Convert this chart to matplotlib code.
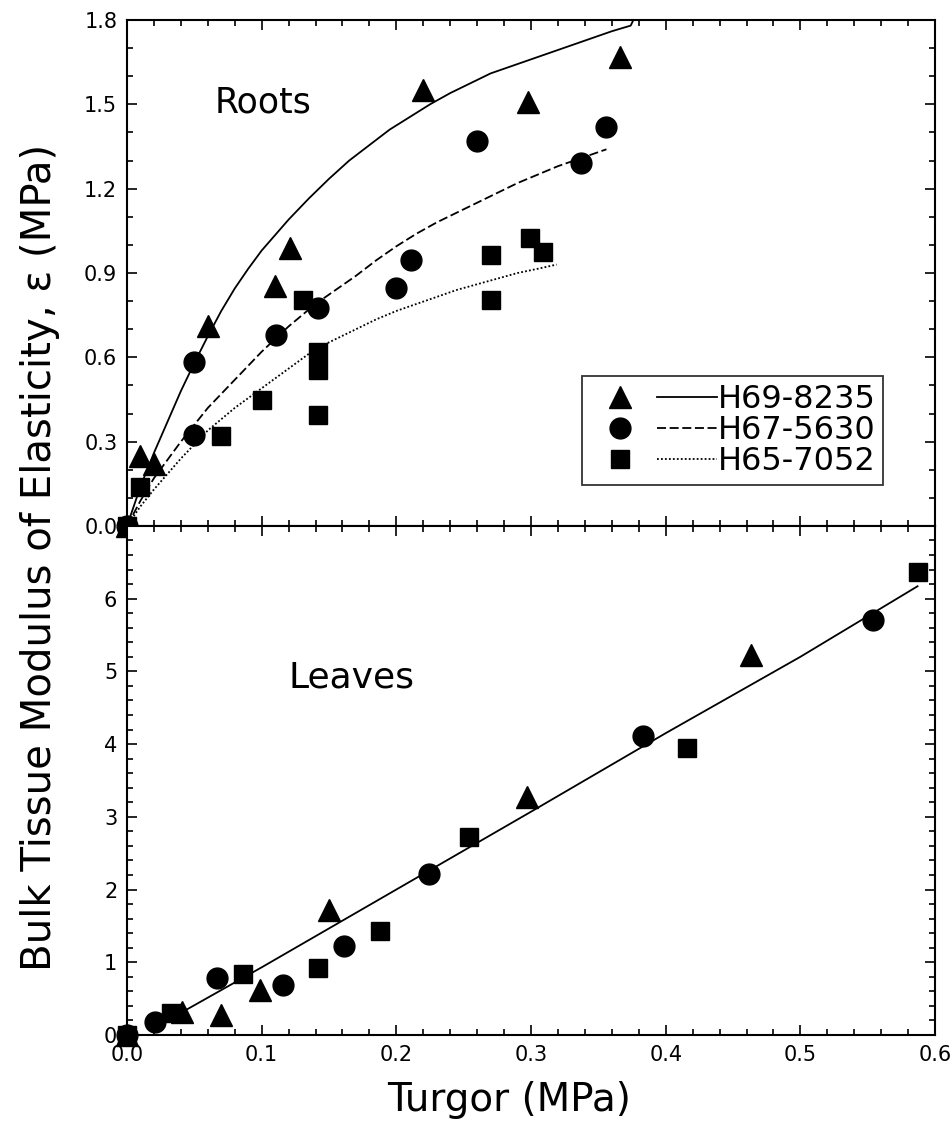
import matplotlib
matplotlib.use("Agg")
import matplotlib.pyplot as plt
from matplotlib.lines import Line2D
from matplotlib.legend_handler import HandlerTuple
from matplotlib.ticker import MultipleLocator, FormatStrFormatter

plt.rcParams["font.family"] = "DejaVu Sans"

# Roots: measured points per cultivar (turgor, modulus)
root_h69_x = [0.0, 0.01, 0.02, 0.06, 0.11, 0.121, 0.22, 0.298, 0.366]
root_h69_y = [0.0, 0.25, 0.22, 0.71, 0.855, 0.99, 1.55, 1.51, 1.67]
root_h67_x = [0.0, 0.05, 0.05, 0.111, 0.142, 0.20, 0.211, 0.26, 0.337, 0.356]
root_h67_y = [0.0, 0.585, 0.325, 0.68, 0.775, 0.845, 0.945, 1.37, 1.29, 1.42]
root_h65_x = [0.0, 0.01, 0.07, 0.10, 0.131, 0.142, 0.142, 0.142, 0.27, 0.27, 0.299, 0.309]
root_h65_y = [0.0, 0.14, 0.32, 0.45, 0.805, 0.62, 0.555, 0.395, 0.965, 0.805, 1.025, 0.975]

# Roots: fitted curves
fit_h69_x = [0.0, 0.005, 0.01, 0.015, 0.02, 0.03, 0.04, 0.05, 0.06, 0.07, 0.08,
             0.09, 0.10, 0.11, 0.12, 0.135, 0.15, 0.165, 0.18, 0.195, 0.21,
             0.225, 0.24, 0.255, 0.27, 0.285, 0.30, 0.315, 0.33, 0.345, 0.36,
             0.374, 0.376]
fit_h69_y = [0.0, 0.07, 0.14, 0.20, 0.26, 0.37, 0.48, 0.58, 0.675, 0.765, 0.845,
             0.915, 0.98, 1.035, 1.09, 1.165, 1.235, 1.30, 1.355, 1.41, 1.455,
             1.50, 1.54, 1.575, 1.61, 1.635, 1.66, 1.685, 1.71, 1.735, 1.76,
             1.78, 1.80]
fit_h67_x = [0.0, 0.01, 0.02, 0.03, 0.04, 0.05, 0.06, 0.07, 0.08, 0.09, 0.10,
             0.11, 0.12, 0.13, 0.14, 0.155, 0.17, 0.185, 0.20, 0.215, 0.23,
             0.245, 0.26, 0.275, 0.29, 0.305, 0.32, 0.338, 0.356]
fit_h67_y = [0.0, 0.09, 0.17, 0.235, 0.30, 0.36, 0.42, 0.47, 0.52, 0.57, 0.62,
             0.665, 0.71, 0.75, 0.79, 0.84, 0.89, 0.945, 0.995, 1.04, 1.08,
             1.115, 1.15, 1.185, 1.22, 1.25, 1.28, 1.31, 1.34]
fit_h65_x = [0.0, 0.01, 0.02, 0.03, 0.04, 0.05, 0.06, 0.07, 0.08, 0.09, 0.10,
             0.11, 0.12, 0.13, 0.14, 0.155, 0.17, 0.185, 0.20, 0.215, 0.23,
             0.245, 0.26, 0.275, 0.29, 0.305, 0.319]
fit_h65_y = [0.0, 0.07, 0.13, 0.185, 0.24, 0.29, 0.34, 0.38, 0.42, 0.455, 0.49,
             0.525, 0.56, 0.595, 0.63, 0.665, 0.70, 0.735, 0.765, 0.79, 0.815,
             0.84, 0.86, 0.88, 0.90, 0.915, 0.93]

# Leaves: measured points per cultivar
leaf_h69_x = [0.0, 0.041, 0.070, 0.099, 0.150, 0.297, 0.463]
leaf_h69_y = [0.0, 0.32, 0.28, 0.62, 1.72, 3.27, 5.23]
leaf_h67_x = [0.0, 0.021, 0.067, 0.116, 0.161, 0.224, 0.383, 0.554]
leaf_h67_y = [0.0, 0.18, 0.78, 0.69, 1.23, 2.22, 4.11, 5.70]
leaf_h65_x = [0.0, 0.033, 0.086, 0.142, 0.188, 0.254, 0.416, 0.587]
leaf_h65_y = [0.0, 0.30, 0.835, 0.92, 1.43, 2.72, 3.95, 6.37]

# Leaves: single regression line
leaf_fit_x = [0.03, 0.10, 0.20, 0.30, 0.40, 0.50, 0.587]
leaf_fit_y = [0.20, 0.93, 2.00, 3.07, 4.15, 5.20, 6.17]

labels = ["H69-8235", "H67-5630", "H65-7052"]
markers = ["^", "o", "s"]
msizes = [16, 15, 13]
lstyles = ["-", (0, (5, 2)), (0, (1, 1.2))]

fig = plt.figure(figsize=(9.52, 11.23), dpi=100)
ax_top = fig.add_axes([0.1334, 0.5316, 0.8488, 0.4506])
ax_bot = fig.add_axes([0.1334, 0.0784, 0.8488, 0.4533])

root_pts = [(root_h69_x, root_h69_y), (root_h67_x, root_h67_y), (root_h65_x, root_h65_y)]
root_fits = [(fit_h69_x, fit_h69_y), (fit_h67_x, fit_h67_y), (fit_h65_x, fit_h65_y)]
for (fx, fy), ls in zip(root_fits, lstyles):
    ax_top.plot(fx, fy, color="k", lw=1.3, ls=ls, clip_on=False)
for (px, py), m, ms in zip(root_pts, markers, msizes):
    ax_top.plot(px, py, ls="none", marker=m, ms=ms, color="k", clip_on=False, zorder=3)

leaf_pts = [(leaf_h69_x, leaf_h69_y), (leaf_h67_x, leaf_h67_y), (leaf_h65_x, leaf_h65_y)]
ax_bot.plot(leaf_fit_x, leaf_fit_y, color="k", lw=1.3)
for (px, py), m, ms in zip(leaf_pts, markers, msizes):
    ax_bot.plot(px, py, ls="none", marker=m, ms=ms, color="k", clip_on=False, zorder=3)

ax_top.set_xlim(0, 0.6)
ax_top.set_ylim(0, 1.8)
ax_bot.set_xlim(0, 0.6)
ax_bot.set_ylim(0, 7)

ax_top.set_yticks([0.0, 0.3, 0.6, 0.9, 1.2, 1.5, 1.8])
ax_top.yaxis.set_minor_locator(MultipleLocator(0.1))
ax_top.yaxis.set_major_formatter(FormatStrFormatter("%.1f"))
ax_top.set_xticks([0.0, 0.1, 0.2, 0.3, 0.4, 0.5, 0.6])
ax_top.xaxis.set_minor_locator(MultipleLocator(0.02))
ax_top.tick_params(labelbottom=False)

ax_bot.set_yticks([0, 1, 2, 3, 4, 5, 6])
ax_bot.yaxis.set_minor_locator(MultipleLocator(0.2))
ax_bot.set_xticks([0.0, 0.1, 0.2, 0.3, 0.4, 0.5, 0.6])
ax_bot.xaxis.set_minor_locator(MultipleLocator(0.02))
ax_bot.xaxis.set_major_formatter(FormatStrFormatter("%.1f"))

for ax in (ax_top, ax_bot):
    ax.tick_params(which="both", direction="in", top=True, right=True,
                   width=1.2, labelsize=15, pad=7)
    ax.tick_params(which="major", length=7)
    ax.tick_params(which="minor", length=4)
    for sp in ax.spines.values():
        sp.set_linewidth(1.5)

ax_top.text(0.101, 1.505, "Roots", fontsize=25, ha="center", va="center")
ax_bot.text(0.167, 4.92, "Leaves", fontsize=26, ha="center", va="center")

handles = []
for m, ms, ls in zip(markers, msizes, lstyles):
    mk = Line2D([], [], ls="none", marker=m, ms=ms, color="k")
    ln = Line2D([], [], ls=ls, lw=1.3, color="k")
    handles.append((mk, ln))
leg = ax_top.legend(handles, labels, loc="upper right", bbox_to_anchor=(0.936, 0.296),
                    borderaxespad=0, fontsize=23, handlelength=4.0, handletextpad=0.0,
                    labelspacing=0.0, borderpad=0.25, fancybox=False,
                    handler_map={tuple: HandlerTuple(ndivide=None, pad=0.2)})
leg.get_frame().set_edgecolor("k")
leg.get_frame().set_linewidth(1.3)

fig.text(0.042, 1 - 557 / 1123, "Bulk Tissue Modulus of Elasticity, ε (MPa)",
         rotation=90, fontsize=29, ha="center", va="center")
fig.text(509 / 952, 1 - 1100 / 1123, "Turgor (MPa)", fontsize=28, ha="center", va="center")

fig.savefig("out.png", dpi=100)
